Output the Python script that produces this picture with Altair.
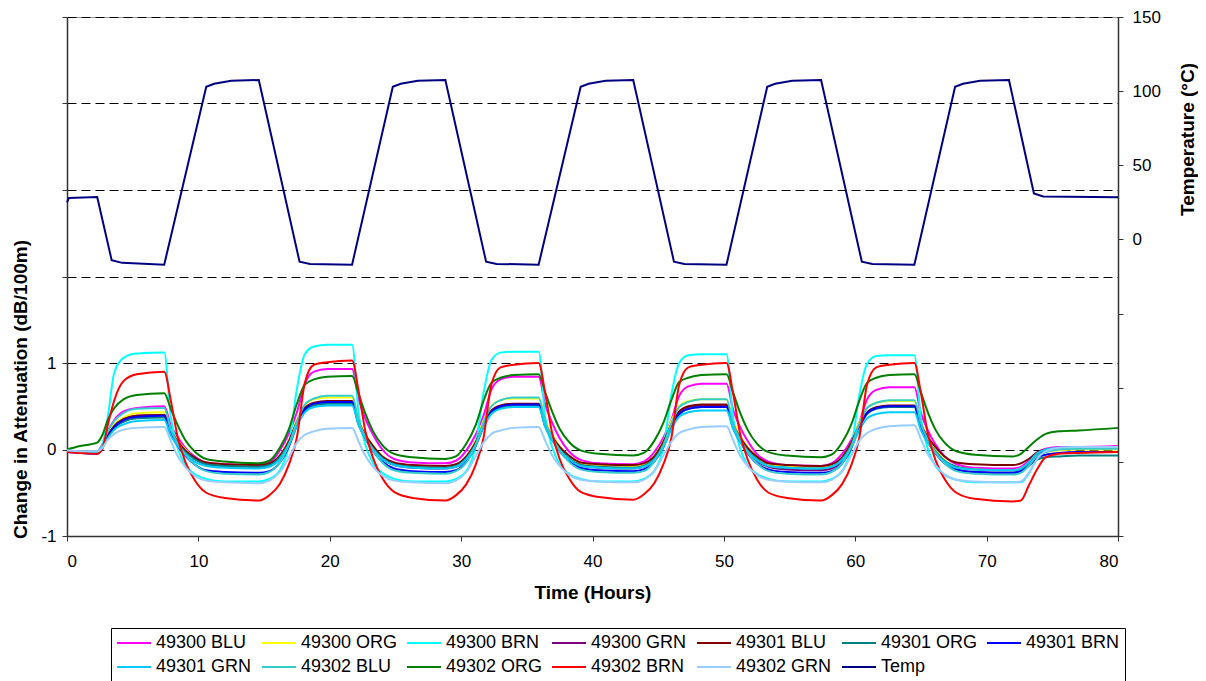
import altair as alt
import pandas as pd

# ---------------- data ----------------
hours = [0, 1.0, 2.3,
         2.7, 3.1, 3.6, 4.3, 5.3, 7.4,
         7.9, 8.4, 9.0, 9.7, 10.6, 12.0, 14.6,
         15.4, 16.2, 16.9, 17.5, 18.1, 18.8, 19.8, 21.7,
         22.2, 22.7, 23.3, 24.0, 24.9, 26.3, 28.8,
         29.6, 30.4, 31.1, 31.7, 32.3, 33.0, 34.0, 35.9,
         36.4, 36.9, 37.5, 38.2, 39.1, 40.5, 43.1,
         43.9, 44.7, 45.4, 46.0, 46.6, 47.3, 48.3, 50.2,
         50.7, 51.2, 51.8, 52.5, 53.4, 54.8, 57.4,
         58.2, 59.0, 59.7, 60.3, 60.9, 61.6, 62.6, 64.5,
         65.0, 65.5, 66.1, 66.8, 67.7, 69.1, 72.0,
         72.6, 73.2, 73.8, 74.5, 75.5, 77.0, 80.0]

s49300_blu = [-0.01, -0.02, -0.02,
              0.06, 0.21, 0.34, 0.44, 0.48, 0.50,
              0.28, 0.15, 0.02, -0.08, -0.15, -0.17, -0.18,
              -0.15, -0.01, 0.19, 0.43, 0.76, 0.90, 0.93, 0.93,
              0.58, 0.36, 0.17, 0.00, -0.11, -0.15, -0.16,
              -0.13, -0.01, 0.17, 0.39, 0.69, 0.81, 0.84, 0.84,
              0.52, 0.32, 0.13, -0.02, -0.12, -0.16, -0.17,
              -0.14, -0.03, 0.14, 0.34, 0.62, 0.73, 0.76, 0.76,
              0.46, 0.27, 0.10, -0.05, -0.14, -0.18, -0.19,
              -0.16, -0.05, 0.11, 0.31, 0.58, 0.69, 0.72, 0.72,
              0.42, 0.23, 0.06, -0.08, -0.17, -0.21, -0.22,
              -0.20, -0.13, -0.04, 0.01, 0.03, 0.03, 0.04]

s49300_org = [-0.02, -0.03, -0.03,
              0.04, 0.18, 0.29, 0.37, 0.42, 0.43,
              0.23, 0.11, 0.00, -0.10, -0.16, -0.18, -0.19,
              -0.17, -0.07, 0.11, 0.34, 0.51, 0.58, 0.60, 0.60,
              0.34, 0.18, 0.04, -0.08, -0.16, -0.19, -0.20,
              -0.18, -0.08, 0.10, 0.33, 0.50, 0.57, 0.59, 0.59,
              0.34, 0.18, 0.04, -0.07, -0.15, -0.18, -0.19,
              -0.17, -0.07, 0.10, 0.33, 0.50, 0.56, 0.58, 0.58,
              0.33, 0.17, 0.03, -0.09, -0.17, -0.20, -0.21,
              -0.19, -0.09, 0.08, 0.31, 0.48, 0.54, 0.56, 0.56,
              0.30, 0.14, 0.00, -0.12, -0.20, -0.23, -0.24,
              -0.22, -0.16, -0.07, -0.03, -0.01, 0.00, 0.00]

s49300_brn = [-0.02, -0.03, -0.03,
              0.06, 0.37, 0.89, 1.06, 1.11, 1.12,
              0.38, 0.03, -0.18, -0.28, -0.34, -0.37, -0.37,
              -0.34, -0.24, 0.06, 0.70, 1.10, 1.19, 1.21, 1.21,
              0.42, 0.06, -0.16, -0.27, -0.34, -0.37, -0.37,
              -0.34, -0.25, 0.04, 0.65, 1.03, 1.12, 1.13, 1.13,
              0.38, 0.04, -0.17, -0.28, -0.34, -0.37, -0.37,
              -0.34, -0.25, 0.03, 0.63, 1.00, 1.09, 1.10, 1.10,
              0.37, 0.03, -0.18, -0.28, -0.34, -0.37, -0.37,
              -0.34, -0.25, 0.02, 0.62, 0.99, 1.08, 1.09, 1.09,
              0.36, 0.02, -0.19, -0.29, -0.35, -0.38, -0.38,
              -0.38, -0.28, -0.12, -0.02, 0.01, 0.02, 0.02]

s49300_grn = [-0.02, -0.03, -0.03,
              0.03, 0.16, 0.27, 0.35, 0.39, 0.40,
              0.21, 0.09, -0.02, -0.11, -0.17, -0.19, -0.20,
              -0.18, -0.09, 0.09, 0.30, 0.47, 0.53, 0.55, 0.55,
              0.30, 0.15, 0.01, -0.10, -0.18, -0.21, -0.22,
              -0.20, -0.11, 0.06, 0.28, 0.44, 0.50, 0.52, 0.52,
              0.28, 0.14, 0.00, -0.11, -0.18, -0.21, -0.22,
              -0.20, -0.11, 0.06, 0.27, 0.43, 0.49, 0.51, 0.51,
              0.27, 0.12, -0.02, -0.13, -0.20, -0.23, -0.24,
              -0.22, -0.13, 0.04, 0.26, 0.42, 0.48, 0.50, 0.50,
              0.25, 0.10, -0.04, -0.15, -0.23, -0.26, -0.27,
              -0.25, -0.17, -0.07, -0.01, 0.01, 0.02, 0.02]

s49301_blu = [-0.02, -0.03, -0.03,
              0.03, 0.16, 0.27, 0.35, 0.39, 0.40,
              0.21, 0.10, -0.01, -0.09, -0.15, -0.17, -0.18,
              -0.16, -0.07, 0.10, 0.32, 0.48, 0.54, 0.56, 0.56,
              0.32, 0.17, 0.04, -0.08, -0.15, -0.18, -0.19,
              -0.17, -0.08, 0.08, 0.29, 0.45, 0.51, 0.53, 0.53,
              0.30, 0.16, 0.03, -0.07, -0.15, -0.17, -0.18,
              -0.16, -0.08, 0.09, 0.29, 0.44, 0.50, 0.52, 0.52,
              0.29, 0.15, 0.02, -0.08, -0.16, -0.18, -0.19,
              -0.17, -0.09, 0.08, 0.28, 0.43, 0.49, 0.51, 0.51,
              0.29, 0.15, 0.03, -0.08, -0.15, -0.17, -0.18,
              -0.16, -0.11, -0.04, 0.00, 0.01, 0.02, 0.02]

s49301_org = [-0.02, -0.03, -0.03,
              0.03, 0.15, 0.25, 0.32, 0.36, 0.37,
              0.19, 0.07, -0.03, -0.11, -0.17, -0.19, -0.20,
              -0.18, -0.09, 0.08, 0.29, 0.45, 0.51, 0.53, 0.53,
              0.29, 0.15, 0.01, -0.10, -0.17, -0.20, -0.21,
              -0.19, -0.10, 0.06, 0.27, 0.42, 0.48, 0.50, 0.50,
              0.27, 0.13, 0.00, -0.10, -0.18, -0.20, -0.21,
              -0.19, -0.11, 0.06, 0.26, 0.41, 0.47, 0.49, 0.49,
              0.26, 0.12, -0.01, -0.11, -0.19, -0.21, -0.22,
              -0.20, -0.11, 0.05, 0.26, 0.41, 0.47, 0.49, 0.49,
              0.26, 0.11, -0.02, -0.13, -0.20, -0.23, -0.24,
              -0.23, -0.18, -0.12, -0.09, -0.08, -0.07, -0.07]

s49301_brn = [-0.03, -0.04, -0.05,
              0.02, 0.15, 0.26, 0.34, 0.38, 0.39,
              0.18, 0.05, -0.07, -0.17, -0.24, -0.26, -0.27,
              -0.25, -0.15, 0.04, 0.28, 0.46, 0.53, 0.55, 0.55,
              0.29, 0.13, -0.02, -0.14, -0.22, -0.25, -0.26,
              -0.24, -0.14, 0.04, 0.26, 0.43, 0.50, 0.52, 0.52,
              0.27, 0.12, -0.02, -0.13, -0.21, -0.24, -0.25,
              -0.23, -0.14, 0.03, 0.25, 0.41, 0.47, 0.49, 0.49,
              0.25, 0.10, -0.04, -0.16, -0.23, -0.26, -0.27,
              -0.25, -0.16, 0.02, 0.25, 0.42, 0.48, 0.50, 0.50,
              0.25, 0.10, -0.04, -0.16, -0.23, -0.26, -0.27,
              -0.25, -0.19, -0.10, -0.06, -0.04, -0.03, -0.03]

s49301_grn = [-0.02, -0.03, -0.04,
              0.02, 0.13, 0.23, 0.29, 0.33, 0.34,
              0.16, 0.05, -0.05, -0.14, -0.19, -0.21, -0.22,
              -0.20, -0.11, 0.06, 0.27, 0.43, 0.49, 0.51, 0.51,
              0.28, 0.13, 0.00, -0.11, -0.18, -0.21, -0.22,
              -0.20, -0.11, 0.05, 0.26, 0.41, 0.47, 0.49, 0.49,
              0.26, 0.12, -0.01, -0.11, -0.19, -0.21, -0.22,
              -0.20, -0.12, 0.03, 0.23, 0.38, 0.43, 0.45, 0.45,
              0.24, 0.10, -0.02, -0.12, -0.19, -0.21, -0.22,
              -0.20, -0.12, 0.03, 0.22, 0.36, 0.41, 0.43, 0.43,
              0.22, 0.08, -0.04, -0.14, -0.21, -0.23, -0.24,
              -0.22, -0.15, -0.05, 0.00, 0.02, 0.03, 0.03]

s49302_blu = [-0.01, -0.02, -0.02,
              0.06, 0.21, 0.33, 0.42, 0.47, 0.48,
              0.23, 0.08, -0.06, -0.17, -0.25, -0.28, -0.29,
              -0.26, -0.15, 0.06, 0.32, 0.52, 0.59, 0.62, 0.62,
              0.33, 0.15, -0.01, -0.15, -0.24, -0.27, -0.28,
              -0.25, -0.15, 0.05, 0.31, 0.50, 0.57, 0.60, 0.60,
              0.32, 0.15, -0.01, -0.14, -0.23, -0.26, -0.27,
              -0.25, -0.14, 0.05, 0.30, 0.49, 0.55, 0.58, 0.58,
              0.30, 0.13, -0.03, -0.16, -0.25, -0.28, -0.29,
              -0.26, -0.16, 0.04, 0.29, 0.48, 0.54, 0.57, 0.57,
              0.30, 0.12, -0.03, -0.16, -0.25, -0.28, -0.29,
              -0.27, -0.19, -0.08, -0.03, 0.00, 0.01, 0.01]

s49302_org = [0.00, 0.04, 0.08,
              0.17, 0.34, 0.48, 0.58, 0.63, 0.65,
              0.47, 0.29, 0.11, -0.02, -0.11, -0.14, -0.16,
              -0.13, 0.02, 0.24, 0.53, 0.75, 0.81, 0.84, 0.85,
              0.64, 0.42, 0.21, 0.05, -0.05, -0.09, -0.11,
              -0.08, 0.07, 0.28, 0.56, 0.77, 0.83, 0.86, 0.87,
              0.66, 0.45, 0.24, 0.09, -0.01, -0.05, -0.07,
              -0.04, 0.10, 0.31, 0.57, 0.78, 0.83, 0.86, 0.87,
              0.66, 0.44, 0.23, 0.07, -0.03, -0.07, -0.09,
              -0.06, 0.08, 0.29, 0.56, 0.77, 0.83, 0.86, 0.87,
              0.66, 0.44, 0.23, 0.08, -0.02, -0.06, -0.08,
              -0.05, 0.03, 0.11, 0.18, 0.21, 0.22, 0.25]

s49302_brn = [-0.03, -0.04, -0.05,
              0.01, 0.28, 0.57, 0.79, 0.87, 0.90,
              0.57, 0.16, -0.14, -0.35, -0.50, -0.56, -0.59,
              -0.53, -0.40, -0.17, 0.14, 0.77, 0.98, 1.01, 1.03,
              0.67, 0.22, -0.10, -0.33, -0.49, -0.56, -0.59,
              -0.53, -0.40, -0.18, 0.13, 0.75, 0.95, 0.98, 1.00,
              0.65, 0.21, -0.11, -0.33, -0.49, -0.55, -0.58,
              -0.52, -0.39, -0.17, 0.13, 0.75, 0.95, 0.98, 1.00,
              0.65, 0.21, -0.11, -0.34, -0.50, -0.56, -0.59,
              -0.53, -0.40, -0.18, 0.13, 0.75, 0.95, 0.98, 1.00,
              0.65, 0.20, -0.12, -0.34, -0.50, -0.57, -0.60,
              -0.59, -0.42, -0.24, -0.09, -0.05, -0.04, -0.03]

s49302_grn = [-0.01, -0.02, -0.02,
              0.02, 0.11, 0.18, 0.23, 0.25, 0.26,
              0.10, -0.07, -0.20, -0.30, -0.36, -0.38, -0.39,
              -0.36, -0.26, -0.09, 0.08, 0.17, 0.21, 0.24, 0.25,
              0.09, -0.07, -0.20, -0.30, -0.36, -0.38, -0.39,
              -0.36, -0.26, -0.08, 0.08, 0.18, 0.22, 0.25, 0.26,
              0.10, -0.06, -0.19, -0.29, -0.35, -0.37, -0.38,
              -0.35, -0.25, -0.07, 0.09, 0.19, 0.23, 0.26, 0.27,
              0.11, -0.06, -0.19, -0.29, -0.35, -0.37, -0.38,
              -0.35, -0.25, -0.07, 0.10, 0.19, 0.24, 0.27, 0.28,
              0.12, -0.05, -0.18, -0.29, -0.35, -0.37, -0.38,
              -0.37, -0.27, -0.12, -0.02, 0.02, 0.03, 0.03]

temp_hours = [0, 0.15, 2.3, 3.4, 4.2, 7.4,
              10.6, 11.2, 12.5, 14.6, 17.7, 18.5, 21.7,
              24.8, 25.4, 26.7, 28.8, 31.9, 32.7, 35.9,
              39.1, 39.7, 41.0, 43.1, 46.2, 47.0, 50.2,
              53.3, 53.9, 55.2, 57.4, 60.5, 61.3, 64.5,
              67.6, 68.2, 69.5, 71.7, 73.6, 74.3, 80.0]
temp_c = [25, 28, 28.6, -14, -15.8, -17,
          103, 105, 107, 107.5, -15, -16.5, -17,
          103, 105, 107, 107.5, -15, -16.5, -17,
          103, 105, 107, 107.5, -15, -16.5, -17,
          103, 105, 107, 107.5, -15, -16.5, -17,
          103, 105, 107, 107.5, 31, 29, 28.5]

series_names = ["49300 BLU", "49300 ORG", "49300 BRN", "49300 GRN",
                "49301 BLU", "49301 ORG", "49301 BRN", "49301 GRN",
                "49302 BLU", "49302 ORG", "49302 BRN", "49302 GRN"]
series_values = [s49300_blu, s49300_org, s49300_brn, s49300_grn,
                 s49301_blu, s49301_org, s49301_brn, s49301_grn,
                 s49302_blu, s49302_org, s49302_brn, s49302_grn]
series_colors = ["#FF00FF", "#FFFF00", "#00FFFF", "#800080",
                 "#800000", "#008080", "#0000FF", "#00CCFF",
                 "#33CCCC", "#008000", "#FF0000", "#99CCFF"]
temp_name = "Temp"
temp_color = "#000080"

# ---------------- tables ----------------
rows = []
for name, vals in zip(series_names, series_values):
    for h, v in zip(hours, vals):
        rows.append({"Time": h, "Value": v, "Series": name})
att_df = pd.DataFrame(rows)
temp_df = pd.DataFrame({"Time": temp_hours, "Temp": temp_c,
                        "Series": [temp_name] * len(temp_hours)})

FONT = "Liberation Sans"

color = alt.Color(
    "Series:N",
    scale=alt.Scale(domain=series_names + [temp_name],
                    range=series_colors + [temp_color]),
    legend=alt.Legend(
        title=None, orient="none", legendX=44, legendY=611,
        columns=7, direction="horizontal",
        symbolType="stroke", symbolSize=1156, symbolStrokeWidth=2,
        labelFont=FONT, labelFontSize=18, labelColor="#000",
        labelOffset=4, labelLimit=300,
        strokeColor="#000", fillColor="#fff", padding=5,
        columnPadding=8, rowPadding=4, gridAlign="all", clipHeight=20,
    ),
)

x = alt.X(
    "Time:Q",
    scale=alt.Scale(domain=[0, 80], nice=False, zero=False),
    axis=alt.Axis(values=list(range(0, 81, 10)), title="Time (Hours)",
                  grid=False, labelPadding=12, titlePadding=14, format="d"),
)

att = alt.Chart(att_df).mark_line(strokeWidth=2, interpolate="monotone").encode(
    x=x,
    y=alt.Y(
        "Value:Q",
        scale=alt.Scale(domain=[-1, 5], nice=False, zero=False),
        axis=alt.Axis(
            orient="left", values=[-1, 0, 1, 2, 3, 4, 5],
            labelExpr="datum.value > 1 ? '' : (datum.value < 0 ? '-' + (-datum.value) : '' + datum.value)",
            grid=True, gridDash=[9, 5], gridColor="#000", gridWidth=1,
            title="Change in Attenuation (dB/100m)", titleY=372,
            titlePadding=10, labelPadding=6,
        ),
    ),
    color=color,
)

temp = alt.Chart(temp_df).mark_line(strokeWidth=2).encode(
    x=x,
    y=alt.Y(
        "Temp:Q",
        scale=alt.Scale(domain=[-200, 150], nice=False, zero=False),
        axis=alt.Axis(
            orient="right", values=list(range(-200, 151, 50)),
            labelExpr="datum.value >= 0 ? datum.label : ''",
            grid=False, title="Temperature (°C)", titleAngle=270,
            titleX=69, titleY=122, titleBaseline="middle", titleAlign="center",
            labelPadding=9,
        ),
    ),
    color=color,
)

chart = (
    alt.layer(att, temp)
    .resolve_scale(y="independent")
    .properties(
        width=1051, height=519,
        padding={"left": 59, "top": 9, "right": 80, "bottom": 145},
        autosize=alt.AutoSizeParams(type="none"),
    )
    .configure_axis(
        labelFont=FONT, labelFontSize=17, labelColor="#000",
        titleFont=FONT, titleFontSize=19, titleFontWeight="bold",
        titleColor="#000", domainColor="#333", tickColor="#333",
        tickSize=5, domainWidth=1.5,
    )
    .configure_view(stroke="#999", strokeWidth=1)
)

chart.save("out.html", embed_options={"renderer": "svg", "actions": False})
